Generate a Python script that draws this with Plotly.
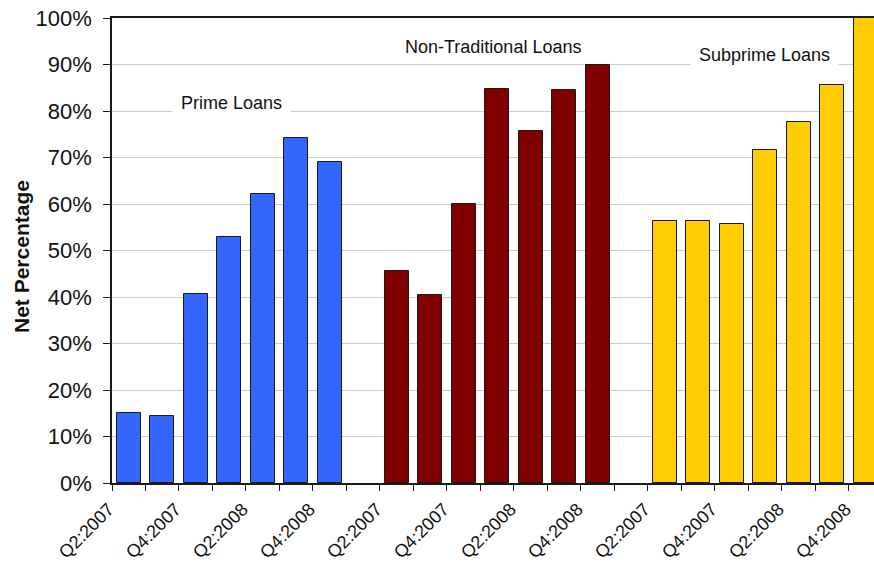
import plotly.graph_objects as go

# Quarterly survey results, net percentage of respondents
quarters = ["Q2:2007", "Q3:2007", "Q4:2007", "Q1:2008", "Q2:2008", "Q3:2008", "Q4:2008"]
prime = [15.1, 14.4, 40.7, 53.0, 62.2, 74.1, 69.1]
non_traditional = [45.5, 40.5, 60.1, 84.8, 75.7, 84.5, 89.8]
subprime = [56.3, 56.3, 55.6, 71.6, 77.6, 85.7, 100.0]

series_names = ["Prime Loans", "Non-Traditional Loans", "Subprime Loans"]
series_values = [prime, non_traditional, subprime]
series_colors = ["#3366FF", "#800000", "#FFCC00"]

FONT = "Liberation Sans, Arial, sans-serif"
n_q = len(quarters)
slot = n_q + 1  # one empty category between groups

fig = go.Figure()
tick_vals, tick_text = [], []
for g, (name, vals, color) in enumerate(zip(series_names, series_values, series_colors)):
    xs = [g * slot + i for i in range(n_q)]
    fig.add_trace(go.Bar(
        x=xs, y=vals, name=name, width=0.72,
        marker=dict(color=color, line=dict(color="#1a1a1a", width=1)),
        showlegend=False,
    ))
    for i in range(0, n_q, 2):
        tick_vals.append(xs[i])
        tick_text.append(quarters[i])

n_cat = len(series_names) * slot - 1
boundaries = [k - 0.5 for k in range(n_cat + 1)]

# group labels on white boxes
labels = [
    dict(text="Prime Loans", x=3.07, y=81.7, pad=8),
    dict(text="Non-Traditional Loans", x=10.87, y=93.75, pad=2),
    dict(text="Subprime Loans", x=18.98, y=92.0, pad=8),
]
for lab in labels:
    fig.add_annotation(
        x=lab["x"], y=lab["y"], text=lab["text"], showarrow=False,
        xref="x", yref="y", bgcolor="white", borderpad=lab["pad"],
        font=dict(family=FONT, size=18, color="#111111"),
    )

# y-axis title
fig.add_annotation(
    text="<b>Net Percentage</b>", textangle=-90, showarrow=False,
    xref="paper", yref="paper", x=0, y=0.486, xanchor="center", yanchor="middle",
    xshift=-91, font=dict(family=FONT, size=21, color="#111111"),
)

fig.update_layout(
    width=874, height=562,
    margin=dict(l=112, r=0, t=18, b=79),
    paper_bgcolor="white", plot_bgcolor="white",
    bargap=0,
    font=dict(family=FONT, color="#111111"),
)
fig.update_xaxes(
    range=[-0.5, 22.25], automargin=False,
    tickmode="array", tickvals=tick_vals, ticktext=tick_text,
    tickangle=-45, ticks="", ticklen=0,
    ticklabelstandoff=7, ticklabelshift=-20,
    tickfont=dict(family=FONT, size=18, color="#111111"),
    showline=True, linecolor="#1a1a1a", linewidth=1.5, mirror=True,
    showgrid=False, zeroline=False,
    minor=dict(tickmode="array", tickvals=boundaries, ticks="outside",
               ticklen=6, tickcolor="#1a1a1a", tickwidth=1, showgrid=False),
)
fig.update_yaxes(
    range=[0, 100], dtick=10, ticksuffix="%", automargin=False,
    ticks="outside", ticklen=7, tickcolor="#1a1a1a", ticklabelstandoff=7,
    tickfont=dict(family=FONT, size=22, color="#111111"),
    showline=True, linecolor="#1a1a1a", linewidth=1.5,
    showgrid=True, gridcolor="#cccccc", gridwidth=1, zeroline=False,
)

fig.write_html("out.html")
